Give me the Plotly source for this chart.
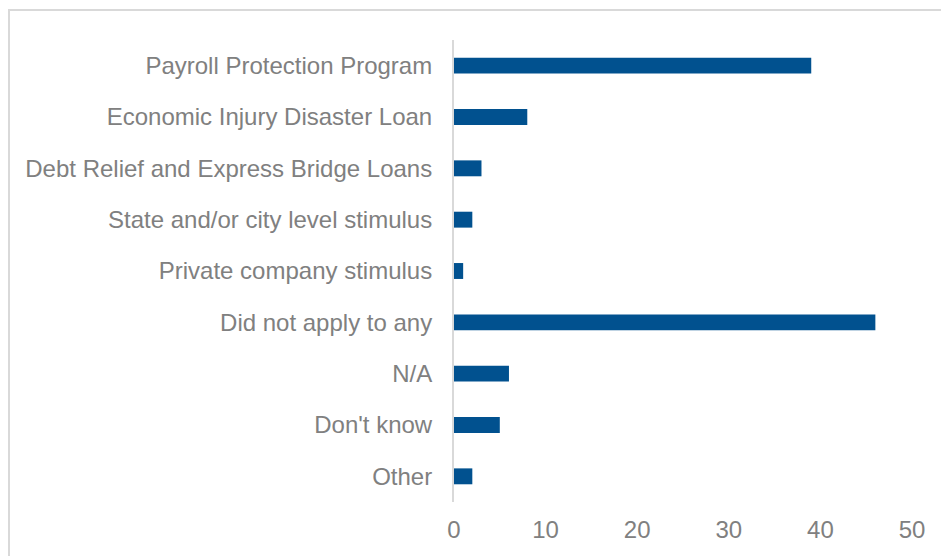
import plotly.graph_objects as go

# Survey responses: relief programs applied to
programs = [
    "Payroll Protection Program",
    "Economic Injury Disaster Loan",
    "Debt Relief and Express Bridge Loans",
    "State and/or city level stimulus",
    "Private company stimulus",
    "Did not apply to any",
    "N/A",
    "Don't know",
    "Other",
]
counts = [39, 8, 3, 2, 1, 46, 6, 5, 2]
x_ticks = [0, 10, 20, 30, 40, 50]

BAR_COLOR = "#01518f"
TEXT_COLOR = "#808080"
LINE_COLOR = "#d9d9d9"

fig = go.Figure(
    go.Bar(
        x=counts,
        y=programs,
        orientation="h",
        marker=dict(color=BAR_COLOR, line=dict(width=0)),
    )
)

W, H = 941, 556
ml, mr, mt, mb = 454, 29, 40, 54
pw, ph = W - ml - mr, H - mt - mb

fig.update_layout(
    width=W,
    height=H,
    margin=dict(l=ml, r=mr, t=mt, b=mb, pad=0),
    paper_bgcolor="white",
    plot_bgcolor="white",
    bargap=0.69,
    showlegend=False,
    font=dict(family="Liberation Sans, Arial, sans-serif", size=24, color=TEXT_COLOR),
    xaxis=dict(
        range=[0, 50],
        tickvals=x_ticks,
        showgrid=False,
        zeroline=False,
        showline=False,
        ticks="",
        ticklabelstandoff=11,
        tickfont=dict(size=24, color=TEXT_COLOR),
        fixedrange=True,
    ),
    yaxis=dict(
        categoryorder="array",
        categoryarray=programs[::-1],
        showgrid=False,
        zeroline=False,
        showline=True,
        linecolor=LINE_COLOR,
        linewidth=2,
        ticks="",
        ticklabelstandoff=15,
        tickfont=dict(size=24, color=TEXT_COLOR),
        fixedrange=True,
    ),
)

# Light frame around the chart area (top and left edges visible)
fig.add_shape(
    type="rect",
    xref="paper",
    yref="paper",
    x0=(9 - ml) / pw,
    x1=(W + 20 - ml) / pw,
    y0=-(H + 20 - (mt + ph)) / ph,
    y1=(mt + ph - 10) / ph,
    line=dict(color=LINE_COLOR, width=2),
    fillcolor="rgba(0,0,0,0)",
    layer="below",
)

fig.write_html("out.html")
